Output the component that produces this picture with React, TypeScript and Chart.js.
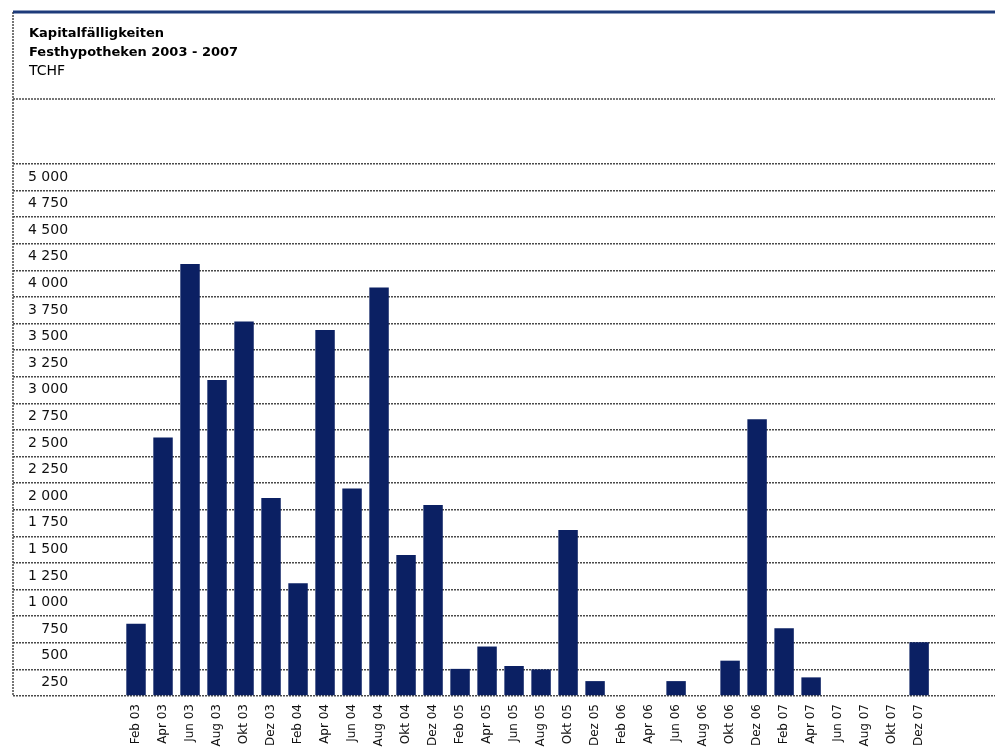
import React, { useEffect, useRef } from "react";
import { Chart, registerables } from "chart.js";

Chart.register(...registerables);

const titleLines = ["Kapitalfälligkeiten", "Festhypotheken 2003 - 2007"];
const unitLabel = "TCHF";

const categories = [
  "Feb 03", "Apr 03", "Jun 03", "Aug 03", "Okt 03", "Dez 03",
  "Feb 04", "Apr 04", "Jun 04", "Aug 04", "Okt 04", "Dez 04",
  "Feb 05", "Apr 05", "Jun 05", "Aug 05", "Okt 05", "Dez 05",
  "Feb 06", "Apr 06", "Jun 06", "Aug 06", "Okt 06", "Dez 06",
  "Feb 07", "Apr 07", "Jun 07", "Aug 07", "Okt 07", "Dez 07",
];

const maturities = [
  680, 2430, 4060, 2970, 3520, 1860,
  1060, 3440, 1950, 3840, 1325, 1795,
  255, 465, 282, 250, 1560, 140,
  0, 0, 140, 0, 332, 2600,
  636, 175, 0, 0, 0, 505,
];

const yMin = 0;
const yMax = 5000;
const yStep = 250;

const fmtThousands = (v: number) => {
  if (v === 0) return "";
  if (v >= 1000) {
    const th = Math.floor(v / 1000);
    const rest = String(v % 1000).padStart(3, "0");
    return `${th} ${rest}`;
  }
  return String(v);
};

const framePlugin = {
  id: "frame",
  beforeDraw(chart: any) {
    const { ctx, chartArea } = chart;
    const { left, right, bottom } = chartArea;
    ctx.save();
    ctx.fillStyle = "#ffffff";
    ctx.fillRect(0, 0, chart.width, chart.height);
    // left border (dashed)
    ctx.strokeStyle = "#4a4a4a";
    ctx.lineWidth = 1.5;
    ctx.setLineDash([2, 1]);
    ctx.beginPath();
    ctx.moveTo(left, 12);
    ctx.lineTo(left, bottom);
    ctx.stroke();
    // header separator
    ctx.beginPath();
    ctx.moveTo(left, 99);
    ctx.lineTo(right, 99);
    ctx.stroke();
    // top blue rule
    ctx.setLineDash([]);
    ctx.strokeStyle = "#1d3b7a";
    ctx.lineWidth = 3;
    ctx.beginPath();
    ctx.moveTo(left, 12);
    ctx.lineTo(right, 12);
    ctx.stroke();
    // titles
    ctx.fillStyle = "#000000";
    ctx.textBaseline = "middle";
    ctx.textAlign = "left";
    ctx.font = 'bold 13px "DejaVu Sans"';
    ctx.fillText(titleLines[0], 29, 34);
    ctx.fillText(titleLines[1], 29, 53);
    ctx.font = '14px "DejaVu Sans"';
    ctx.fillText(unitLabel, 29, 71);
    ctx.restore();
  },
};

export default function App() {
  const ref = useRef<HTMLCanvasElement | null>(null);

  useEffect(() => {
    if (!ref.current) return;
    const chart = new Chart(ref.current, {
      type: "bar",
      data: {
        datasets: [
          {
            label: "Kapitalfälligkeiten",
            data: maturities.map((v, i) => ({ x: i, y: v })),
            backgroundColor: "#0b2063",
            borderWidth: 0,
          },
        ],
      },
      options: {
        animation: false,
        responsive: false,
        maintainAspectRatio: false,
        layout: { padding: { left: 13, right: 0, top: 164, bottom: 0 } },
        plugins: {
          legend: { display: false },
          tooltip: { enabled: false },
          title: { display: false },
        },
        scales: {
          x: {
            type: "linear",
            min: -4.556,
            max: 31.81,
            offset: false,
            grid: { display: false, drawTicks: false },
            border: { display: false },
            afterBuildTicks: (s: any) => {
              s.ticks = categories.map((_, i) => ({ value: i }));
            },
            afterFit: (s: any) => {
              s.height = 59;
            },
            ticks: {
              autoSkip: false,
              minRotation: 90,
              maxRotation: 90,
              padding: 8,
              color: "#111111",
              font: { family: '"DejaVu Sans"', size: 12 },
              callback: (v: any) => categories[Number(v)] ?? "",
            },
          },
          y: {
            min: yMin,
            max: yMax,
            grid: {
              color: "#4a4a4a",
              lineWidth: 1.5,
              drawTicks: false,
            },
            border: { display: false, dash: [2, 1] },
            afterFit: (s: any) => {
              s.width = 0;
            },
            ticks: {
              stepSize: yStep,
              maxTicksLimit: 30,
              mirror: true,
              crossAlign: "far",
              padding: 15,
              labelOffset: 13,
              color: "#111111",
              font: { family: '"DejaVu Sans"', size: 14 },
              callback: (v: any) => fmtThousands(Number(v)),
            },
          },
        },
      } as any,
      plugins: [framePlugin],
    });
    return () => chart.destroy();
  }, []);

  return (
    <div style={{ position: "absolute", left: 0, top: 0, width: 995, height: 755 }}>
      <canvas ref={ref} width={995} height={755} style={{ display: "block" }} />
    </div>
  );
}
